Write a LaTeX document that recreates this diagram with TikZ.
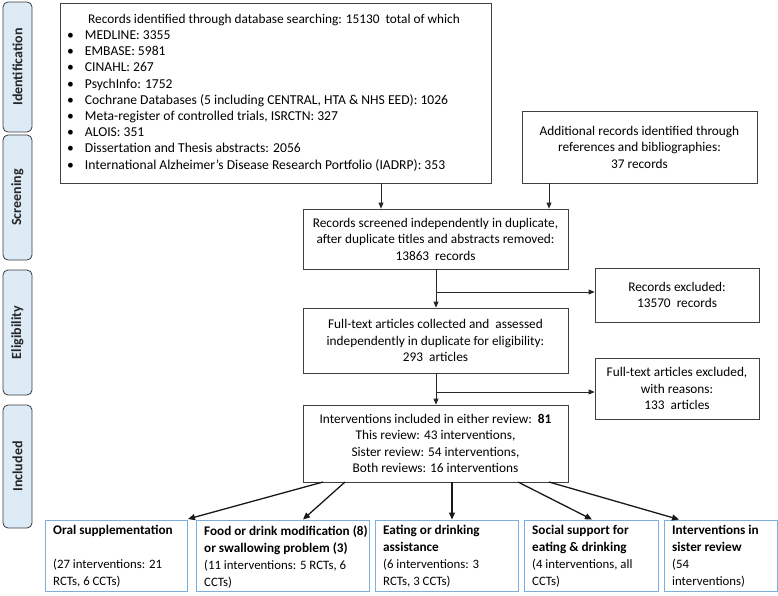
\documentclass[tikz,border=0pt]{standalone}
\usepackage{fontspec}
\setmainfont{Carlito}
\usetikzlibrary{arrows.meta}
\definecolor{sidefill}{HTML}{DDEBF7}
\definecolor{sideline}{HTML}{3A3A3A}
\definecolor{boxline}{HTML}{404040}
\definecolor{blueline}{HTML}{7EAEDC}
\begin{document}
\begin{tikzpicture}[x=1pt,y=-1pt,
  sidebar/.style={draw=sideline,fill=sidefill,rounded corners=5pt,line width=0.8pt,minimum width=29pt,inner sep=0pt},
  sidetext/.style={rotate=90,inner sep=0pt,font=\fontsize{14}{16}\selectfont\bfseries,text=black!85},
  mainbox/.style={draw=boxline,line width=0.8pt,inner sep=0pt,align=center,font=\fontsize{13.3}{16.5}\selectfont},
  bottombox/.style={draw=blueline,line width=1pt,inner sep=0pt,minimum height=71pt},
  bottomtext/.style={anchor=north west,align=left,inner sep=0pt,font=\fontsize{12.8}{17}\selectfont},
  flow/.style={draw=black!85,line width=0.8pt,-{Triangle[length=6pt,width=5pt]}},
  flowb/.style={draw=black!90,line width=1.3pt,-{Triangle[length=7pt,width=6pt]}}]
\useasboundingbox (0,0) rectangle (778,596);
\newcommand\bt[1]{{\fontsize{13.2}{17}\selectfont\bfseries #1}}
% side bars
\node[sidebar,minimum height=130pt] (sid) at (17.5,67) {};
\node[sidetext] (tid) at (sid.center) {Identification};
\node[sidebar,minimum height=125pt] (ssc) at (17.5,197.5) {};
\node[sidetext] (tsc) at (ssc.center) {Screening};
\node[sidebar,minimum height=125pt] (sel) at (17.5,332.5) {};
\node[sidetext] (tel) at (sel.center) {Eligibility};
\node[sidebar,minimum height=123pt] (sin) at (17.5,466.5) {};
\node[sidetext] (tin) at (sin.center) {Included};
% top box
\node[mainbox,minimum width=431pt,minimum height=180pt] (top) at (275.5,93) {};
\node[anchor=west,align=left,inner sep=0pt,font=\fontsize{13.6}{16.2}\selectfont] (toptext) at (67,92.5) {%
\hspace*{21pt}{\fontsize{13.3}{16.2}\selectfont Records identified through database searching: 15130\ \ total of which}\\
\textbullet\hspace*{11pt}MEDLINE: 3355\\
\textbullet\hspace*{11pt}EMBASE: 5981\\
\textbullet\hspace*{11pt}CINAHL: 267\\
\textbullet\hspace*{11pt}PsychInfo: 1752\\
\textbullet\hspace*{11pt}Cochrane Databases (5 including CENTRAL, HTA \& NHS EED): 1026\\
\textbullet\hspace*{11pt}Meta-register of controlled trials, ISRCTN: 327\\
\textbullet\hspace*{11pt}ALOIS: 351\\
\textbullet\hspace*{11pt}Dissertation and Thesis abstracts: 2056\\
\textbullet\hspace*{11pt}International Alzheimer's Disease Research Portfolio (IADRP): 353};
% right column
\node[mainbox,minimum width=235pt,minimum height=72pt] (add) at (639.5,147) {Additional records identified through\\references and bibliographies:\\37 records};
\node[mainbox,minimum width=265pt,minimum height=60pt] (scr) at (435.5,239) {Records screened independently in duplicate,\\after duplicate titles and abstracts removed:\\13863\ \ records};
\node[mainbox,minimum width=164pt,minimum height=54pt] (ex1) at (677,295) {Records excluded:\\13570\ \ records};
\node[mainbox,minimum width=265pt,minimum height=65pt] (ful) at (435.5,340.5) {Full-text articles collected and\ \ assessed\\independently in duplicate for eligibility:\\293\ \ articles};
\node[mainbox,minimum width=164pt,minimum height=61pt] (ex2) at (677,388.5) {Full-text articles excluded,\\with reasons:\\133\ \ articles};
\node[mainbox,minimum width=265pt,minimum height=77pt] (int) at (435.5,443.5) {Interventions included in either review:\ \ \textbf{81}\\This review: 43 interventions,\\Sister review: 54 interventions,\\Both reviews: 16 interventions};
% bottom boxes
\node[bottombox,minimum width=142pt] (b1) at (116,555.5) {};
\node[bottomtext] (t1) at (53,525.5) {\bt{Oral supplementation}\\[17pt](27 interventions: 21\\RCTs, 6 CCTs)};
\node[bottombox,minimum width=173pt] (b2) at (282.5,555.5) {};
\node[bottomtext] (t2) at (204,525.5) {\bt{Food or drink modification (8)}\\\bt{or swallowing problem (3)}\\(11 interventions: 5 RCTs, 6\\CCTs)};
\node[bottombox,minimum width=143pt] (b3) at (446.5,555.5) {};
\node[bottomtext] (t3) at (383,525.5) {\bt{Eating or drinking}\\\bt{assistance}\\(6 interventions: 3\\RCTs, 3 CCTs)};
\node[bottombox,minimum width=134pt] (b4) at (591,555.5) {};
\node[bottomtext] (t4) at (532,525.5) {\bt{Social support for}\\\bt{eating \& drinking}\\(4 interventions, all\\CCTs)};
\node[bottombox,minimum width=113pt] (b5) at (720.5,555.5) {};
\node[bottomtext] (t5) at (672,525.5) {\bt{Interventions in}\\\bt{sister review}\\(54\\interventions)};
% connectors
\draw[flow] (top.south -| 381,0) -- (scr.north -| 381,0);
\draw[flow] (add.south -| 549,0) -- (scr.north -| 549,0);
\coordinate (j1) at (436,292);
\coordinate (j2) at (436,392);
\draw[flow] (scr.south -| j1) -- (ful.north -| j1);
\draw[flow] (j1) -- (j1 -| ex1.west);
\draw[flow] (ful.south -| j2) -- (int.north -| j2);
\draw[flow] (j2) -- (j2 -| ex2.west);
\coordinate (s1) at (323,482);
\coordinate (s2) at (345,482);
\coordinate (s3) at (452,482);
\coordinate (s4) at (518,482);
\coordinate (s5) at (549,482);
\coordinate (e1) at (188,519);
\coordinate (e2) at (303,519.5);
\coordinate (e3) at (452,519.5);
\coordinate (e4) at (592,519.5);
\coordinate (e5) at (679,519.5);
\draw[flowb] (s1) -- (e1);
\draw[flowb] (s2) -- (e2);
\draw[flowb] (s3) -- (e3);
\draw[flowb] (s4) -- (e4);
\draw[flowb] (s5) -- (e5);
\end{tikzpicture}
\end{document}
